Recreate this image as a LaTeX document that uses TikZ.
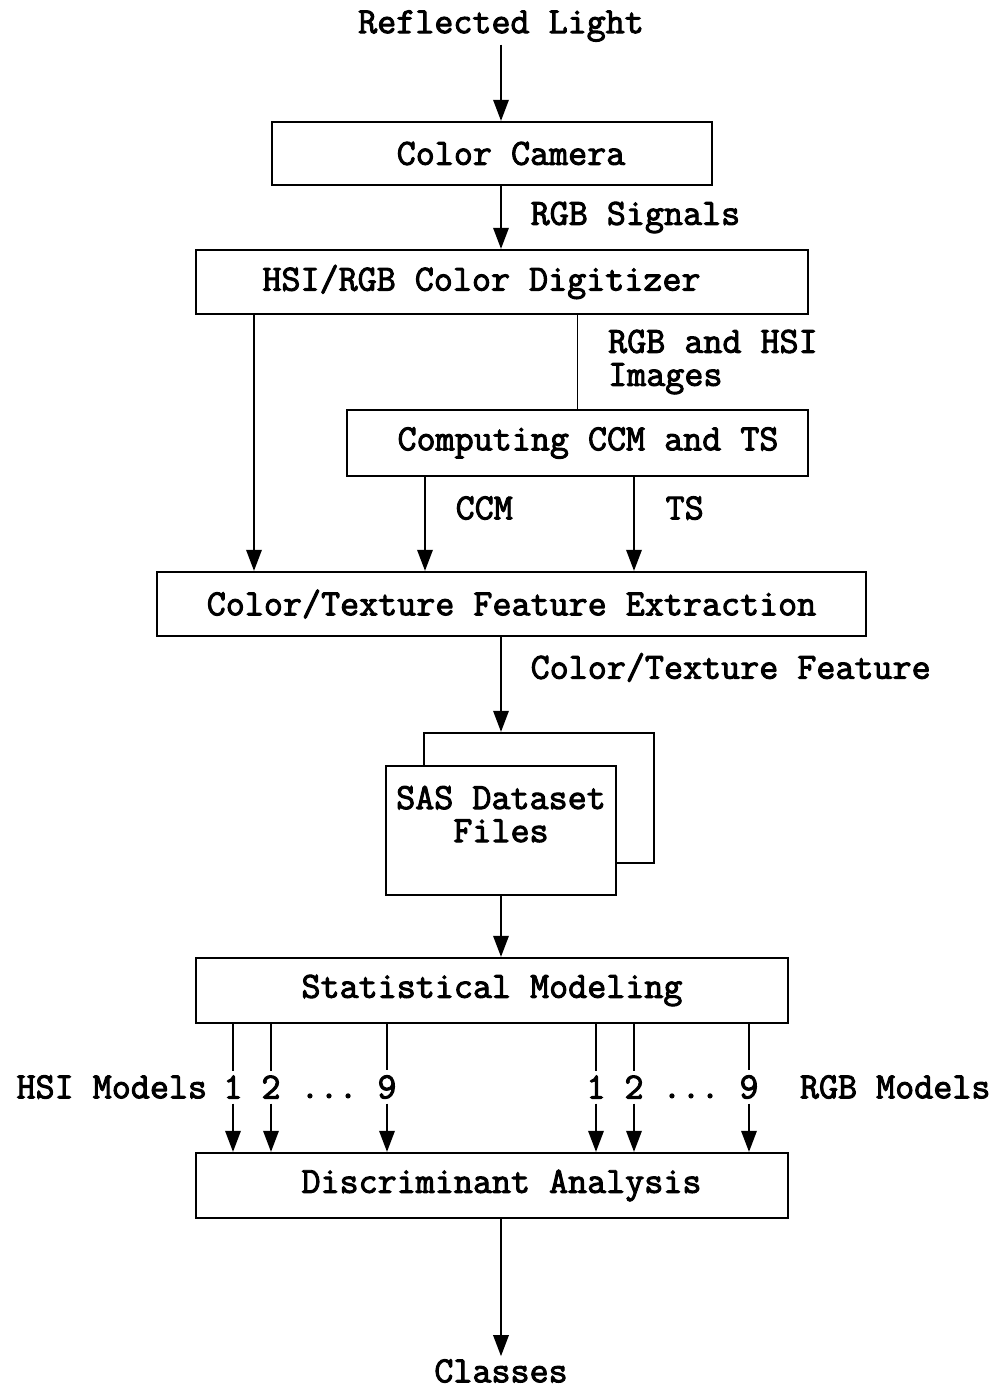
\documentclass[tikz,border=0pt]{standalone}
\usepackage{fontspec}
\newfontfamily\flowfont{Latin Modern Mono}[FakeBold=2.6]
\usetikzlibrary{arrows.meta}

\begin{document}
\begin{tikzpicture}[x=0.025cm,y=-0.025cm,
		>={Triangle[length=15pt,width=11pt]},
		every node/.style={font=\flowfont\fontsize{26.3}{23.5}\selectfont},
		box/.style={draw,line width=1.6pt,inner sep=0pt},
		flow/.style={line width=1.4pt}]
		\useasboundingbox (0,0) rectangle (996,1389);
		
		\node[inner sep=2pt] (refl) at (501,26) {Reflected Light};
		\node[box,minimum width=11cm,minimum height=1.575cm] (cam) at (492,153.5) {\hspace*{0.95cm}Color Camera};
		\node[box,minimum width=15.3cm,minimum height=1.6cm] (dig) at (502,282) {HSI/RGB Color Digitizer\hspace*{1.025cm}};
		\node[box,minimum width=11.525cm,minimum height=1.65cm] (comp) at (577.5,443) {\hspace*{0.525cm}Computing CCM and TS};
		\node[box,minimum width=17.725cm,minimum height=1.6cm] (ext) at (511.5,604) {Color/Texture Feature Extraction};
		
		% stacked files
		\node[box,minimum width=5.75cm,minimum height=3.25cm] (sasb) at (539,798) {};
		\node[box,fill=white,minimum width=5.75cm,minimum height=3.225cm,align=center] (sasf) at (501,830.5) {SAS Dataset\\Files\\\mbox{}};
		
		\node[box,minimum width=14.8cm,minimum height=1.625cm] (stat) at (492,990.5) {Statistical Modeling};
		\node[box,minimum width=14.8cm,minimum height=1.625cm] (dis) at (492,1185.5) {\hspace*{0.475cm}Discriminant Analysis};
		\node[inner sep=2pt] (cls) at (501,1371) {Classes};
		
		\draw[flow,->] (refl) -- (cam.north -| refl);
		\draw[flow,->] (cam.south -| refl) -- node[right=0.6cm]{RGB Signals} (dig.north -| refl);
		\draw[flow,->] (dig.south -| 254,0) -- (ext.north -| 254,0);
		\draw[flow] (dig.south -| comp) -- node[right=0.625cm,align=left]{RGB and HSI\\Images} (comp.north);
		\draw[flow,->] (comp.south -| 425,0) -- node[pos=.33,right=0.625cm]{CCM} (ext.north -| 425,0);
		\draw[flow,->] (comp.south -| 634,0) -- node[pos=.33,right=0.65cm]{TS} (ext.north -| 634,0);
		\draw[flow,->] (ext.south -| refl) -- node[pos=.32,right=0.6cm]{Color/Texture Feature} (sasb.north -| refl);
		\draw[flow,->] (sasf.south) -- (stat.north -| sasf);
		
		% model arrows
		\foreach \x/\n [count=\i] in {233/1,271/2,387/9,596/1,634/2,749/9}{
			\node (m\i) at (\x,1087) {\n};
			\draw[flow] (stat.south -| m\i) -- (m\i);
			\draw[flow,->] (m\i) -- (dis.north -| m\i);
		}
		\node[anchor=base] (hdots) at (329,1098) {.{}.{}.};
		\node[anchor=base] (rdots) at (691,1098) {.{}.{}.};
		\node[anchor=east] (hsi) at (212,1087) {HSI Models};
		\node[anchor=west] (rgb) at (795,1087) {RGB Models};
		
		\draw[flow,->] (dis.south -| refl) -- (cls);
	\end{tikzpicture}
\end{document}
